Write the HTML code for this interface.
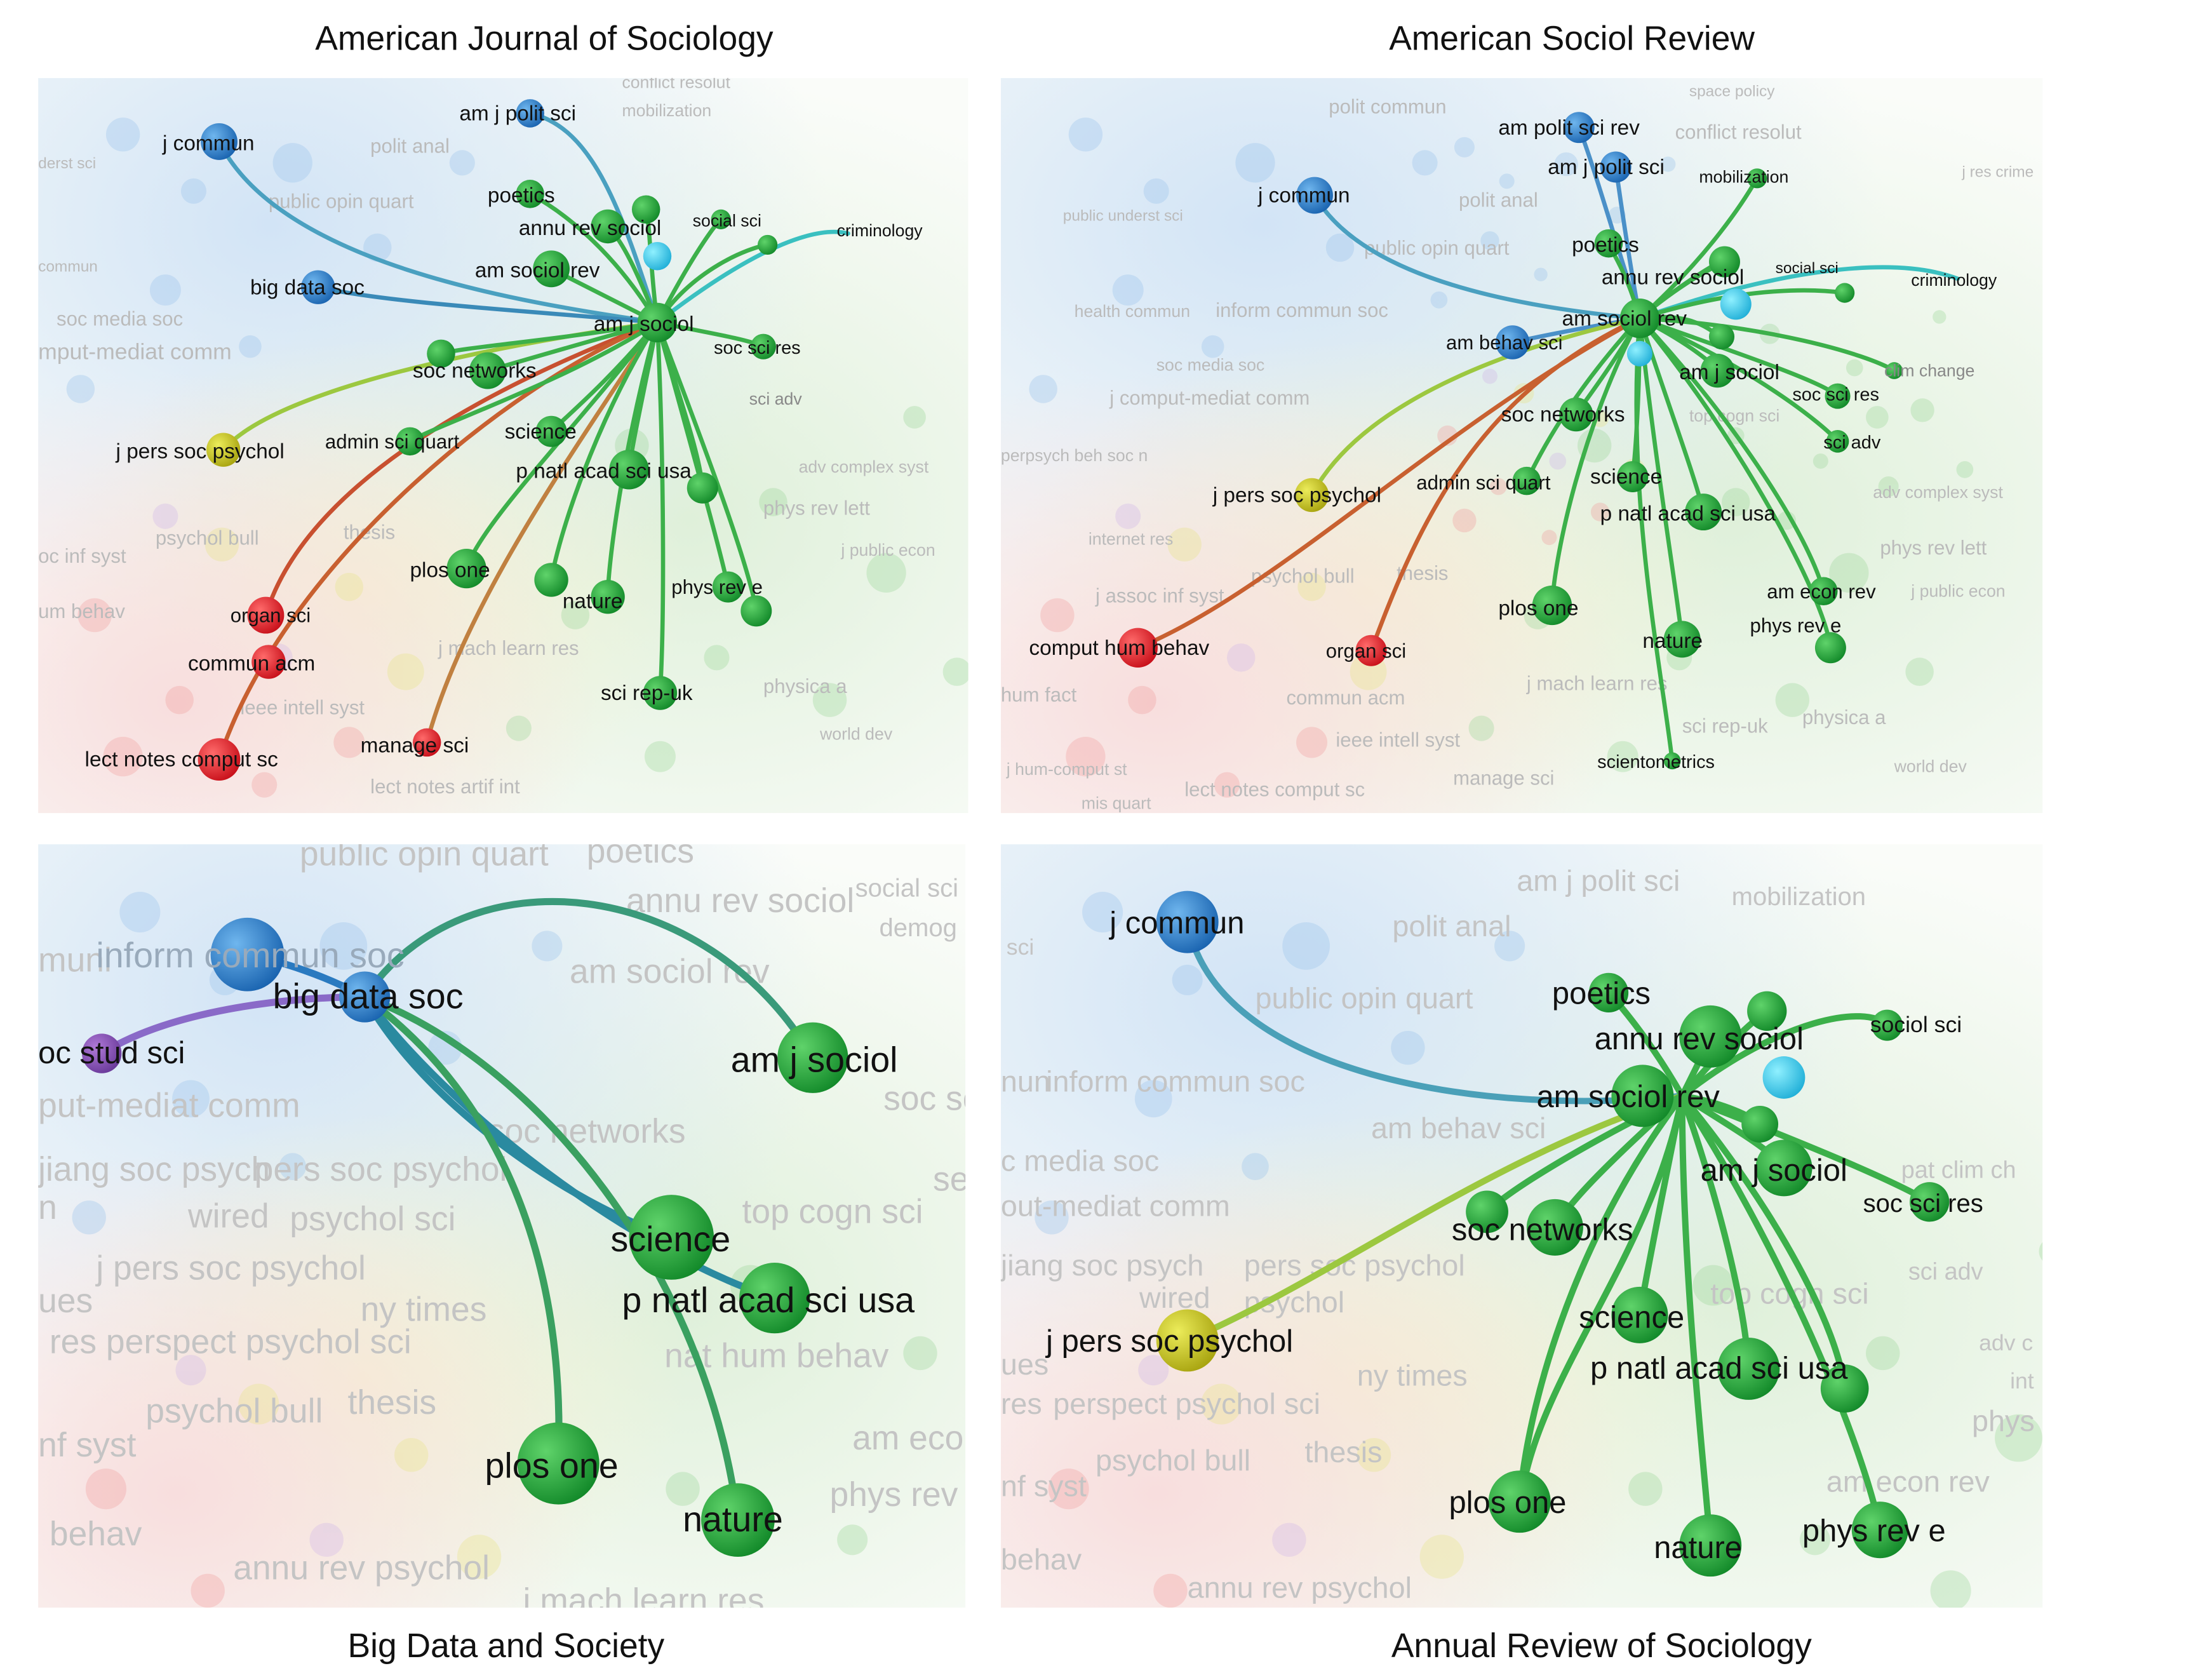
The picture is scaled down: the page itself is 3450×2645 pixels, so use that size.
<!DOCTYPE html>
<html><head><meta charset="utf-8">
<style>
html,body{margin:0;padding:0;background:#fff;}
svg{display:block;}
text{font-family:"Liberation Sans",sans-serif;}
</style></head>
<body>
<svg width="3450" height="2645" viewBox="0 0 1550 1188" xmlns="http://www.w3.org/2000/svg">
<defs>
<radialGradient id="g" cx="35%" cy="35%" r="70%"><stop offset="0" stop-color="#5fd36a"/><stop offset="1" stop-color="#138a2a"/></radialGradient>
<radialGradient id="b" cx="35%" cy="35%" r="70%"><stop offset="0" stop-color="#6fb6ee"/><stop offset="1" stop-color="#1a64b0"/></radialGradient>
<radialGradient id="r" cx="35%" cy="35%" r="70%"><stop offset="0" stop-color="#ff6a6a"/><stop offset="1" stop-color="#c8101a"/></radialGradient>
<radialGradient id="y" cx="35%" cy="35%" r="70%"><stop offset="0" stop-color="#ecec5a"/><stop offset="1" stop-color="#a8a410"/></radialGradient>
<radialGradient id="t" cx="35%" cy="35%" r="70%"><stop offset="0" stop-color="#8ff0ff"/><stop offset="1" stop-color="#22b0d8"/></radialGradient>
<radialGradient id="p" cx="35%" cy="35%" r="70%"><stop offset="0" stop-color="#b07ad8"/><stop offset="1" stop-color="#6a3a9a"/></radialGradient>
<radialGradient id="bgB" cx="25%" cy="20%" r="60%"><stop offset="0" stop-color="#d2e4f6"/><stop offset="1" stop-color="#d2e4f6" stop-opacity="0"/></radialGradient>
<radialGradient id="bgG" cx="70%" cy="60%" r="60%"><stop offset="0" stop-color="#dff0da"/><stop offset="1" stop-color="#dff0da" stop-opacity="0"/></radialGradient>
<radialGradient id="bgR" cx="15%" cy="85%" r="45%"><stop offset="0" stop-color="#f8dede"/><stop offset="1" stop-color="#f8dede" stop-opacity="0"/></radialGradient>
<radialGradient id="bgY" cx="35%" cy="70%" r="35%"><stop offset="0" stop-color="#f4f2d4"/><stop offset="1" stop-color="#f4f2d4" stop-opacity="0"/></radialGradient>
<clipPath id="c1"><rect x="27" y="55" width="658" height="520"/></clipPath>
<clipPath id="c2"><rect x="708" y="55" width="737" height="520"/></clipPath>
<clipPath id="c3"><rect x="27" y="597" width="656" height="540"/></clipPath>
<clipPath id="c4"><rect x="708" y="597" width="737" height="540"/></clipPath>
<g id="bgdots" opacity="0.35">
<circle cx="60" cy="40" r="12" fill="#9cc4ea"/><circle cx="110" cy="80" r="9" fill="#9cc4ea"/><circle cx="180" cy="60" r="14" fill="#9cc4ea"/><circle cx="240" cy="120" r="10" fill="#9cc4ea"/><circle cx="90" cy="150" r="11" fill="#9cc4ea"/><circle cx="150" cy="190" r="8" fill="#9cc4ea"/><circle cx="30" cy="220" r="10" fill="#9cc4ea"/><circle cx="300" cy="60" r="9" fill="#9cc4ea"/>
<circle cx="420" cy="260" r="12" fill="#9fd69a"/><circle cx="520" cy="300" r="10" fill="#9fd69a"/><circle cx="600" cy="350" r="14" fill="#9fd69a"/><circle cx="480" cy="410" r="9" fill="#9fd69a"/><circle cx="560" cy="440" r="12" fill="#9fd69a"/><circle cx="380" cy="380" r="10" fill="#9fd69a"/><circle cx="620" cy="240" r="8" fill="#9fd69a"/><circle cx="440" cy="480" r="11" fill="#9fd69a"/><circle cx="340" cy="460" r="9" fill="#9fd69a"/><circle cx="650" cy="420" r="10" fill="#9fd69a"/>
<circle cx="40" cy="380" r="12" fill="#f0a0a0"/><circle cx="100" cy="440" r="10" fill="#f0a0a0"/><circle cx="60" cy="480" r="14" fill="#f0a0a0"/><circle cx="160" cy="500" r="9" fill="#f0a0a0"/><circle cx="220" cy="470" r="11" fill="#f0a0a0"/>
<circle cx="130" cy="330" r="12" fill="#e8e48a"/><circle cx="220" cy="360" r="10" fill="#e8e48a"/><circle cx="260" cy="420" r="13" fill="#e8e48a"/><circle cx="90" cy="310" r="9" fill="#d0b8e8"/><circle cx="170" cy="410" r="10" fill="#d0b8e8"/>
</g>
</defs>

<!-- Titles -->
<g font-size="24" fill="#111" text-anchor="middle">
<text x="385" y="35">American Journal of Sociology</text>
<text x="1112" y="35">American Sociol Review</text>
<text x="358" y="1172">Big Data and Society</text>
<text x="1133" y="1172">Annual Review of Sociology</text>
</g>

<!-- Panel 1 -->
<g clip-path="url(#c1)">
<rect x="27" y="55" width="658" height="520" fill="#fafcf9"/>
<rect x="27" y="55" width="658" height="520" fill="url(#bgG)"/>
<rect x="27" y="55" width="658" height="520" fill="url(#bgB)"/>
<rect x="27" y="55" width="658" height="520" fill="url(#bgY)"/>
<rect x="27" y="55" width="658" height="520" fill="url(#bgR)"/>
<use href="#bgdots" transform="translate(27,55)"/>
<g font-size="14" fill="#bbb">
<text x="262" y="108">polit anal</text><text x="190" y="147">public opin quart</text><text x="40" y="230">soc media soc</text><text x="27" y="254" font-size="16">mput-mediat comm</text>
<text x="110" y="385">psychol bull</text><text x="243" y="381">thesis</text><text x="27" y="398">oc inf syst</text><text x="27" y="437">um behav</text><text x="170" y="505">ieee intell syst</text><text x="310" y="463">j mach learn res</text><text x="565" y="334" font-size="12">adv complex syst</text><text x="540" y="364">phys rev lett</text><text x="595" y="393" font-size="12">j public econ</text><text x="540" y="490">physica a</text><text x="580" y="523" font-size="12">world dev</text><text x="262" y="561">lect notes artif int</text><text x="440" y="82" font-size="12">mobilization</text><text x="440" y="62" font-size="12">conflict resolut</text><text x="27" y="119" font-size="11">derst sci</text><text x="27" y="192" font-size="11">commun</text>
</g>
<g fill="none" stroke-linecap="round">
<path d="M465,228 C380,215 200,190 155,100" stroke="#4aa0c0" stroke-width="3"/>
<path d="M465,228 C440,150 420,90 375,80" stroke="#4aa0c0" stroke-width="3"/>
<path d="M465,228 C380,220 280,215 225,203" stroke="#3a8ab8" stroke-width="3"/>
<path d="M465,228 C540,170 580,160 600,165" stroke="#3ac0c0" stroke-width="3"/>
<path d="M465,228 C380,240 200,270 158,318" stroke="#9cc840" stroke-width="3"/>
<path d="M465,228 C380,260 220,330 188,435" stroke="#c85030" stroke-width="3"/>
<path d="M465,228 C360,270 200,400 155,537" stroke="#c86030" stroke-width="3"/>
<path d="M465,228 C420,300 330,420 302,525" stroke="#c08040" stroke-width="3"/>
<g stroke="#3cb04a" stroke-width="3">
<path d="M465,228 C430,170 390,145 375,137"/><path d="M465,228 C450,190 440,170 430,160"/><path d="M465,228 C420,205 400,195 390,190"/><path d="M465,228 C490,180 505,160 510,155"/><path d="M465,228 C500,235 530,240 540,245"/><path d="M465,228 C420,240 370,255 345,262"/><path d="M465,228 C400,240 330,245 312,250"/><path d="M465,228 C400,270 310,300 290,312"/><path d="M465,228 C430,270 400,295 390,305"/><path d="M465,228 C455,280 448,310 445,332"/><path d="M465,228 C480,280 495,320 497,345"/><path d="M465,228 C410,300 340,370 330,402"/><path d="M465,228 C420,300 395,380 390,410"/><path d="M465,228 C440,320 430,400 430,422"/><path d="M465,228 C490,320 510,390 515,415"/><path d="M465,228 C500,320 530,400 535,432"/><path d="M465,228 C470,330 470,440 467,490"/><path d="M465,228 C460,190 460,160 457,148"/><path d="M465,228 C490,190 530,175 543,173"/>
</g></g>
<circle cx="155" cy="100" r="13" fill="url(#b)"/><circle cx="375" cy="80" r="10" fill="url(#b)"/><circle cx="225" cy="203" r="12" fill="url(#b)"/>
<circle cx="375" cy="137" r="10" fill="url(#g)"/><circle cx="430" cy="160" r="12" fill="url(#g)"/><circle cx="457" cy="148" r="10" fill="url(#g)"/><circle cx="465" cy="181" r="10" fill="url(#t)"/><circle cx="390" cy="190" r="13" fill="url(#g)"/><circle cx="510" cy="155" r="7" fill="url(#g)"/><circle cx="543" cy="173" r="7" fill="url(#g)"/><circle cx="465" cy="228" r="14" fill="url(#g)"/><circle cx="540" cy="245" r="9" fill="url(#g)"/><circle cx="345" cy="262" r="13" fill="url(#g)"/><circle cx="312" cy="250" r="10" fill="url(#g)"/><circle cx="290" cy="312" r="10" fill="url(#g)"/><circle cx="390" cy="305" r="11" fill="url(#g)"/><circle cx="445" cy="332" r="14" fill="url(#g)"/><circle cx="497" cy="345" r="11" fill="url(#g)"/><circle cx="330" cy="402" r="14" fill="url(#g)"/><circle cx="390" cy="410" r="12" fill="url(#g)"/><circle cx="430" cy="422" r="12" fill="url(#g)"/><circle cx="515" cy="415" r="11" fill="url(#g)"/><circle cx="535" cy="432" r="11" fill="url(#g)"/><circle cx="467" cy="490" r="12" fill="url(#g)"/>
<circle cx="158" cy="318" r="12" fill="url(#y)"/><circle cx="188" cy="435" r="13" fill="url(#r)"/><circle cx="190" cy="468" r="12" fill="url(#r)"/><circle cx="155" cy="537" r="15" fill="url(#r)"/><circle cx="302" cy="525" r="10" fill="url(#r)"/>
<g font-size="15" fill="#111">
<text x="115" y="106">j commun</text><text x="325" y="85">am j polit sci</text><text x="177" y="208">big data soc</text><text x="345" y="143">poetics</text><text x="367" y="166">annu rev sociol</text><text x="336" y="196">am sociol rev</text><text x="420" y="234">am j sociol</text><text x="490" y="160" font-size="12">social sci</text><text x="592" y="167" font-size="12">criminology</text><text x="505" y="250" font-size="13">soc sci res</text><text x="530" y="286" font-size="12" fill="#888">sci adv</text><text x="292" y="267">soc networks</text><text x="82" y="324">j pers soc psychol</text><text x="230" y="317" font-size="14">admin sci quart</text><text x="357" y="310">science</text><text x="365" y="338">p natl acad sci usa</text><text x="290" y="408">plos one</text><text x="398" y="430">nature</text><text x="475" y="420" font-size="14">phys rev e</text><text x="163" y="440" font-size="14">organ sci</text><text x="133" y="474">commun acm</text><text x="60" y="542">lect notes comput sc</text><text x="255" y="532">manage sci</text><text x="425" y="495">sci rep-uk</text>
</g>
</g>

<!-- Panel 2 -->
<g clip-path="url(#c2)">
<rect x="708" y="55" width="737" height="520" fill="#fafcf9"/>
<rect x="708" y="55" width="737" height="520" fill="url(#bgG)"/>
<rect x="708" y="55" width="737" height="520" fill="url(#bgB)"/>
<rect x="708" y="55" width="737" height="520" fill="url(#bgY)"/>
<rect x="708" y="55" width="737" height="520" fill="url(#bgR)"/>
<use href="#bgdots" transform="translate(708,55)"/>
<use href="#bgdots" transform="translate(1000,80) scale(0.6)"/>
<g font-size="14" fill="#bbb">
<text x="940" y="80">polit commun</text><text x="1032" y="146">polit anal</text><text x="965" y="180">public opin quart</text><text x="752" y="156" font-size="11">public underst sci</text><text x="760" y="224" font-size="12">health commun</text><text x="860" y="224">inform commun soc</text><text x="818" y="262" font-size="12">soc media soc</text><text x="785" y="286">j comput-mediat comm</text><text x="708" y="326" font-size="12">perpsych beh soc n</text><text x="770" y="385" font-size="12">internet res</text><text x="885" y="412">psychol bull</text><text x="988" y="410">thesis</text><text x="775" y="426">j assoc inf syst</text><text x="708" y="496">hum fact</text><text x="910" y="498">commun acm</text><text x="945" y="528">ieee intell syst</text><text x="712" y="548" font-size="12">j hum-comput st</text><text x="838" y="563">lect notes comput sc</text><text x="1028" y="555">manage sci</text><text x="1080" y="488">j mach learn res</text><text x="1190" y="518">sci rep-uk</text><text x="1275" y="512">physica a</text><text x="1340" y="546" font-size="12">world dev</text><text x="1325" y="352" font-size="12">adv complex syst</text><text x="1330" y="392">phys rev lett</text><text x="1352" y="422" font-size="12">j public econ</text><text x="1185" y="98">conflict resolut</text><text x="1195" y="68" font-size="11">space policy</text><text x="1388" y="125" font-size="11">j res crime</text><text x="1195" y="298" font-size="12">top cogn sci</text><text x="765" y="572" font-size="12">mis quart</text>
</g>
<g fill="none" stroke-linecap="round">
<path d="M1160,225 C1050,215 960,190 930,138" stroke="#4aa0c0" stroke-width="3"/>
<path d="M1160,225 C1140,160 1125,110 1117,90" stroke="#4a90c8" stroke-width="3"/>
<path d="M1160,225 C1150,170 1145,130 1143,118" stroke="#4a90c8" stroke-width="3"/>
<path d="M1160,225 C1100,235 1080,240 1070,242" stroke="#4a90c8" stroke-width="3"/>
<path d="M1160,225 C1260,190 1340,180 1385,197" stroke="#3ac0c0" stroke-width="3"/>
<path d="M1160,225 C1050,250 960,290 928,350" stroke="#9cc840" stroke-width="3"/>
<path d="M1160,225 C1040,280 1000,380 970,460" stroke="#c86030" stroke-width="3"/>
<path d="M1160,225 C1020,300 900,420 805,458" stroke="#c86030" stroke-width="3"/>
<g stroke="#3cb04a" stroke-width="3">
<path d="M1160,225 C1150,190 1140,178 1138,172"/><path d="M1160,225 C1190,200 1210,190 1220,185"/><path d="M1160,225 C1190,200 1215,185 1222,183"/><path d="M1160,225 C1240,200 1290,205 1305,207"/><path d="M1160,225 C1190,240 1210,255 1215,262"/><path d="M1160,225 C1230,250 1290,270 1300,280"/><path d="M1160,225 C1250,230 1320,250 1340,262"/><path d="M1160,225 C1140,260 1120,285 1115,293"/><path d="M1160,225 C1240,260 1290,300 1300,312"/><path d="M1160,225 C1110,280 1090,320 1080,340"/><path d="M1160,225 C1160,280 1157,320 1155,337"/><path d="M1160,225 C1185,300 1200,340 1205,362"/><path d="M1160,225 C1230,300 1280,380 1290,418"/><path d="M1160,225 C1230,310 1290,420 1295,458"/><path d="M1160,225 C1120,300 1100,390 1098,428"/><path d="M1160,225 C1170,320 1185,410 1190,452"/><path d="M1160,225 C1150,350 1175,470 1183,538"/><path d="M1160,225 C1210,180 1235,140 1243,126"/><path d="M1160,225 C1200,220 1210,235 1218,238"/>
</g></g>
<circle cx="1117" cy="90" r="11" fill="url(#b)"/><circle cx="1143" cy="118" r="11" fill="url(#b)"/><circle cx="930" cy="138" r="13" fill="url(#b)"/><circle cx="1070" cy="242" r="12" fill="url(#b)"/>
<circle cx="1138" cy="172" r="10" fill="url(#g)"/><circle cx="1220" cy="185" r="11" fill="url(#g)"/><circle cx="1228" cy="215" r="11" fill="url(#t)"/><circle cx="1243" cy="126" r="7" fill="url(#g)"/><circle cx="1305" cy="207" r="7" fill="url(#g)"/><circle cx="1160" cy="225" r="14" fill="url(#g)"/><circle cx="1160" cy="250" r="9" fill="url(#t)"/><circle cx="1218" cy="238" r="9" fill="url(#g)"/><circle cx="1215" cy="262" r="12" fill="url(#g)"/><circle cx="1300" cy="280" r="9" fill="url(#g)"/><circle cx="1340" cy="262" r="6" fill="url(#g)"/><circle cx="1115" cy="293" r="12" fill="url(#g)"/><circle cx="1300" cy="312" r="8" fill="url(#g)"/><circle cx="1080" cy="340" r="10" fill="url(#g)"/><circle cx="1155" cy="337" r="11" fill="url(#g)"/><circle cx="1205" cy="362" r="13" fill="url(#g)"/><circle cx="1290" cy="418" r="10" fill="url(#g)"/><circle cx="1295" cy="458" r="11" fill="url(#g)"/><circle cx="1098" cy="428" r="14" fill="url(#g)"/><circle cx="1190" cy="452" r="13" fill="url(#g)"/><circle cx="1183" cy="538" r="6" fill="url(#g)"/>
<circle cx="928" cy="350" r="12" fill="url(#y)"/><circle cx="805" cy="458" r="14" fill="url(#r)"/><circle cx="970" cy="460" r="11" fill="url(#r)"/>
<g font-size="15" fill="#111">
<text x="1060" y="95">am polit sci rev</text><text x="1095" y="123">am j polit sci</text><text x="1202" y="129" font-size="12">mobilization</text><text x="890" y="143">j commun</text><text x="1112" y="178">poetics</text><text x="1133" y="201">annu rev sociol</text><text x="1256" y="193" font-size="11">social sci</text><text x="1352" y="202" font-size="12">criminology</text><text x="1105" y="230">am sociol rev</text><text x="1023" y="247" font-size="14">am behav sci</text><text x="1188" y="268">am j sociol</text><text x="1268" y="283" font-size="13">soc sci res</text><text x="1333" y="266" font-size="12" fill="#888">clim change</text><text x="1062" y="298">soc networks</text><text x="1290" y="317" font-size="13">sci adv</text><text x="858" y="355">j pers soc psychol</text><text x="1002" y="346" font-size="14">admin sci quart</text><text x="1125" y="342">science</text><text x="1132" y="368">p natl acad sci usa</text><text x="1250" y="423" font-size="14">am econ rev</text><text x="1238" y="447" font-size="14">phys rev e</text><text x="1060" y="435">plos one</text><text x="1162" y="458">nature</text><text x="728" y="463">comput hum behav</text><text x="938" y="465" font-size="14">organ sci</text><text x="1130" y="543" font-size="13">scientometrics</text>
</g>
</g>

<!-- Panel 3 -->
<g clip-path="url(#c3)">
<rect x="27" y="597" width="656" height="540" fill="#fafcf9"/>
<rect x="27" y="597" width="656" height="540" fill="url(#bgG)"/>
<rect x="27" y="597" width="656" height="540" fill="url(#bgB)"/>
<rect x="27" y="597" width="656" height="540" fill="url(#bgY)"/>
<rect x="27" y="597" width="656" height="540" fill="url(#bgR)"/>
<use href="#bgdots" transform="translate(27,597) scale(1.2)"/>
<g font-size="24" fill="#c4c4c4">
<text x="212" y="612">public opin quart</text><text x="415" y="610">poetics</text><text x="443" y="645">annu rev sociol</text><text x="605" y="634" font-size="18">social sci</text><text x="622" y="662" font-size="18">demog</text><text x="403" y="695">am sociol rev</text><text x="27" y="790">put-mediat comm</text><text x="345" y="808">soc networks</text><text x="27" y="835">jiang soc psych</text><text x="180" y="835">pers soc psychol</text><text x="27" y="862">n</text><text x="133" y="868">wired</text><text x="205" y="870">psychol sci</text><text x="525" y="865">top cogn sci</text><text x="68" y="905">j pers soc psychol</text><text x="255" y="934">ny times</text><text x="27" y="928">ues</text><text x="35" y="957">res</text><text x="75" y="957">perspect psychol sci</text><text x="470" y="967">nat hum behav</text><text x="103" y="1006">psychol bull</text><text x="246" y="1000">thesis</text><text x="27" y="1030">nf syst</text><text x="603" y="1025">am econ</text><text x="587" y="1065">phys rev</text><text x="35" y="1093">behav</text><text x="165" y="1117">annu rev psychol</text><text x="370" y="1140">j mach learn res</text><text x="27" y="687">muni</text><text x="625" y="785">soc sc</text><text x="660" y="842">se</text>
</g>
<g fill="none" stroke-linecap="round" stroke-width="5">
<path d="M258,705 C200,705 120,715 72,745" stroke="#8a6ac8"/>
<path d="M258,705 C230,690 200,680 175,675" stroke="#2a7ac0"/>
<path d="M258,705 C330,600 500,620 575,748" stroke="#3a9a7a"/>
<path d="M258,705 C300,780 400,850 475,875" stroke="#2a8aa0"/>
<path d="M258,705 C330,800 460,890 548,918" stroke="#2a8aa0"/>
<path d="M258,705 C360,780 400,900 395,1035" stroke="#3aa060"/>
<path d="M258,705 C380,750 500,900 522,1075" stroke="#3aa060"/>
</g>
<circle cx="175" cy="675" r="26" fill="url(#b)"/><circle cx="72" cy="745" r="14" fill="url(#p)"/><circle cx="258" cy="705" r="18" fill="url(#b)"/>
<circle cx="575" cy="748" r="25" fill="url(#g)"/><circle cx="475" cy="875" r="30" fill="url(#g)"/><circle cx="548" cy="918" r="25" fill="url(#g)"/><circle cx="395" cy="1035" r="29" fill="url(#g)"/><circle cx="522" cy="1075" r="26" fill="url(#g)"/>
<g font-size="25" fill="#111">
<text x="68" y="684" fill="#9ab">inform commun soc</text><text x="193" y="713">big data soc</text><text x="27" y="752" font-size="22">oc stud sci</text><text x="517" y="758">am j sociol</text><text x="432" y="885">science</text><text x="440" y="928">p natl acad sci usa</text><text x="343" y="1045">plos one</text><text x="483" y="1083">nature</text>
</g>
</g>

<!-- Panel 4 -->
<g clip-path="url(#c4)">
<rect x="708" y="597" width="737" height="540" fill="#fafcf9"/>
<rect x="708" y="597" width="737" height="540" fill="url(#bgG)"/>
<rect x="708" y="597" width="737" height="540" fill="url(#bgB)"/>
<rect x="708" y="597" width="737" height="540" fill="url(#bgY)"/>
<rect x="708" y="597" width="737" height="540" fill="url(#bgR)"/>
<use href="#bgdots" transform="translate(708,597) scale(1.2)"/>
<g font-size="21" fill="#c4c4c4">
<text x="1073" y="630">am j polit sci</text><text x="1225" y="640" font-size="18">mobilization</text><text x="985" y="662">polit anal</text><text x="712" y="675" font-size="16">sci</text><text x="888" y="713">public opin quart</text><text x="708" y="772">nun</text><text x="740" y="772">inform commun soc</text><text x="970" y="805">am behav sci</text><text x="708" y="828">c media soc</text><text x="708" y="860">out-mediat comm</text><text x="708" y="902">jiang soc psych</text><text x="880" y="902">pers soc psychol</text><text x="806" y="925">wired</text><text x="880" y="928">psychol</text><text x="1210" y="922">top cogn sci</text><text x="1345" y="833" font-size="17">pat clim ch</text><text x="1350" y="905" font-size="17">sci adv</text><text x="1400" y="955" font-size="16">adv c</text><text x="1422" y="982" font-size="16">int</text><text x="1395" y="1012">phys re</text><text x="1292" y="1055">am econ rev</text><text x="708" y="972">ues</text><text x="708" y="1000">res</text><text x="745" y="1000">perspect psychol sci</text><text x="960" y="980">ny times</text><text x="775" y="1040">psychol bull</text><text x="923" y="1034">thesis</text><text x="708" y="1058">nf syst</text><text x="708" y="1110">behav</text><text x="840" y="1130">annu rev psychol</text>
</g>
<g fill="none" stroke-linecap="round" stroke-width="4.5">
<path d="M1190,775 C1050,790 860,760 840,652" stroke="#4aa0b8"/>
<path d="M1190,775 C1050,820 950,900 840,948" stroke="#9cc840"/>
<g stroke="#3cb04a">
<path d="M1190,775 C1170,740 1150,715 1138,702"/><path d="M1190,775 C1200,755 1205,745 1210,733"/><path d="M1190,775 C1220,740 1240,722 1250,715"/><path d="M1190,775 C1260,720 1320,710 1335,725"/><path d="M1190,775 C1220,780 1240,790 1245,795"/><path d="M1190,775 C1230,800 1255,815 1262,826"/><path d="M1190,775 C1280,810 1340,835 1365,850"/><path d="M1190,775 C1120,810 1070,840 1052,857"/><path d="M1190,775 C1140,820 1110,850 1100,868"/><path d="M1190,775 C1175,850 1165,900 1160,930"/><path d="M1190,775 C1220,860 1235,930 1237,968"/><path d="M1190,775 C1260,860 1300,940 1305,982"/><path d="M1190,775 C1110,880 1080,1000 1075,1062"/><path d="M1190,775 C1190,900 1205,1030 1210,1093"/><path d="M1190,775 C1270,900 1320,1030 1330,1082"/><path d="M1190,775 C1170,880 1100,960 1080,1040"/>
</g></g>
<circle cx="840" cy="652" r="22" fill="url(#b)"/><circle cx="840" cy="948" r="22" fill="url(#y)"/>
<circle cx="1138" cy="702" r="14" fill="url(#g)"/><circle cx="1210" cy="733" r="22" fill="url(#g)"/><circle cx="1250" cy="715" r="14" fill="url(#g)"/><circle cx="1262" cy="762" r="15" fill="url(#t)"/><circle cx="1335" cy="725" r="11" fill="url(#g)"/><circle cx="1162" cy="775" r="22" fill="url(#g)"/><circle cx="1245" cy="795" r="13" fill="url(#g)"/><circle cx="1262" cy="826" r="20" fill="url(#g)"/><circle cx="1365" cy="850" r="14" fill="url(#g)"/><circle cx="1052" cy="857" r="15" fill="url(#g)"/><circle cx="1100" cy="868" r="20" fill="url(#g)"/><circle cx="1160" cy="930" r="20" fill="url(#g)"/><circle cx="1237" cy="968" r="22" fill="url(#g)"/><circle cx="1305" cy="982" r="17" fill="url(#g)"/><circle cx="1075" cy="1062" r="22" fill="url(#g)"/><circle cx="1210" cy="1093" r="22" fill="url(#g)"/><circle cx="1330" cy="1082" r="20" fill="url(#g)"/>
<g font-size="22" fill="#111">
<text x="785" y="660">j commun</text><text x="1098" y="710">poetics</text><text x="1128" y="742">annu rev sociol</text><text x="1323" y="730" font-size="16">sociol sci</text><text x="1087" y="783">am sociol rev</text><text x="1203" y="835">am j sociol</text><text x="1318" y="857" font-size="18">soc sci res</text><text x="1027" y="877">soc networks</text><text x="740" y="956">j pers soc psychol</text><text x="1117" y="939">science</text><text x="1125" y="975">p natl acad sci usa</text><text x="1025" y="1070">plos one</text><text x="1170" y="1102">nature</text><text x="1275" y="1090">phys rev e</text>
</g>
</g>
</svg>
</body></html>
